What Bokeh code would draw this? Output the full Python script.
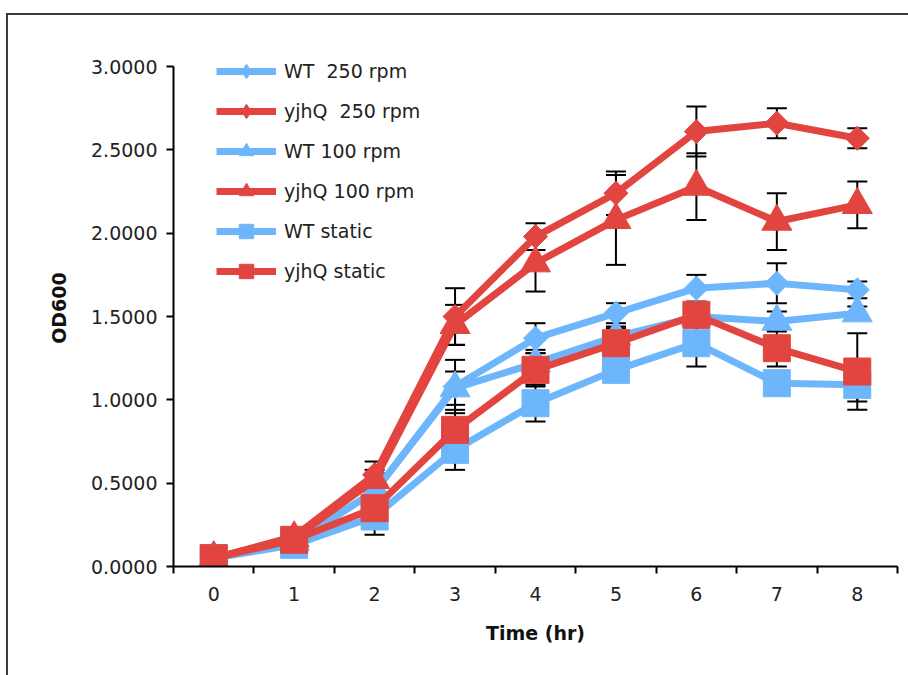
import math
from bokeh.plotting import figure
from bokeh.models import (ColumnDataSource, FixedTicker, PrintfTickFormatter, Whisker,
                          TeeHead, Legend, LegendItem)
from bokeh.embed import file_html
from bokeh.resources import INLINE

hours = [0, 1, 2, 3, 4, 5, 6, 7, 8]

labels = ["WT  250 rpm", "yjhQ  250 rpm", "WT 100 rpm", "yjhQ 100 rpm", "WT static", "yjhQ static"]

wt250 = [0.05, 0.14, 0.45, 1.08, 1.37, 1.52, 1.67, 1.70, 1.66]
wt250_err = [0.01, 0.02, 0.05, 0.16, 0.09, 0.06, 0.08, 0.12, 0.05]
yjhq250 = [0.05, 0.18, 0.55, 1.50, 1.98, 2.24, 2.61, 2.66, 2.57]
yjhq250_err = [0.01, 0.02, 0.08, 0.17, 0.08, 0.13, 0.15, 0.09, 0.06]
wt100 = [0.05, 0.15, 0.45, 1.07, 1.22, 1.38, 1.50, 1.47, 1.52]
wt100_err = [0.01, 0.02, 0.05, 0.10, 0.08, 0.06, 0.06, 0.06, 0.04]
yjhq100 = [0.05, 0.17, 0.52, 1.45, 1.82, 2.08, 2.28, 2.07, 2.17]
yjhq100_err = [0.01, 0.02, 0.06, 0.12, 0.17, 0.27, 0.20, 0.17, 0.14]
wtstatic = [0.05, 0.13, 0.30, 0.70, 0.98, 1.18, 1.34, 1.10, 1.09]
wtstatic_err = [0.01, 0.02, 0.11, 0.12, 0.11, 0.05, 0.14, 0.05, 0.10]
yjhqstatic = [0.05, 0.16, 0.35, 0.82, 1.18, 1.34, 1.51, 1.31, 1.17]
yjhqstatic_err = [0.01, 0.02, 0.08, 0.12, 0.10, 0.09, 0.05, 0.11, 0.23]

y_ticks = [0.0, 0.5, 1.0, 1.5, 2.0, 2.5, 3.0]

BLUE = "#6EB6FB"
RED = "#E2453F"

# (label, values, errors, colour, plot marker, size, angle, legend marker)
series = [
    (labels[0], wt250, wt250_err, BLUE, "square", 17, math.pi / 4, "diamond"),
    (labels[1], yjhq250, yjhq250_err, RED, "square", 17, math.pi / 4, "diamond"),
    (labels[2], wt100, wt100_err, BLUE, "triangle", 30, 0, "triangle"),
    (labels[3], yjhq100, yjhq100_err, RED, "triangle", 30, 0, "triangle"),
    (labels[4], wtstatic, wtstatic_err, BLUE, "square", 27, 0, "square"),
    (labels[5], yjhqstatic, yjhqstatic_err, RED, "square", 27, 0, "square"),
]

FONT = "DejaVu Sans"
FS = "19px"

# frame extends 17 px above the 3.0 tick so the legend is not clipped
Y_TOP = 3.0 * 515 / 498

p = figure(width=902, height=662, x_range=(-0.5, 8.5), y_range=(0, Y_TOP),
           output_backend="svg", toolbar_location=None,
           min_border_left=165, min_border_right=15, min_border_top=34, min_border_bottom=113,
           margin=(13, 0, 0, 6))
p.styles = {"border-top": "2px solid #3a3a3a", "border-left": "2px solid #3a3a3a",
            "box-sizing": "content-box"}
p.outline_line_color = None
p.xgrid.visible = False
p.ygrid.visible = False

for name, ys, err, col, mk, sz, ang, lmk in series:
    src = ColumnDataSource(dict(x=hours, upper=[a + b for a, b in zip(ys, err)],
                                lower=[a - b for a, b in zip(ys, err)]))
    w = Whisker(source=src, base="x", upper="upper", lower="lower",
                line_color="black", line_width=2,
                upper_head=TeeHead(size=20, line_color="black", line_width=2),
                lower_head=TeeHead(size=20, line_color="black", line_width=2))
    p.add_layout(w)

items = []
for name, ys, err, col, mk, sz, ang, lmk in series:
    src = ColumnDataSource(dict(x=hours, y=ys))
    r1 = p.line("x", "y", source=src, line_color=col, line_width=7)
    p.scatter("x", "y", source=src, marker=mk, size=sz, angle=ang,
              fill_color=col, line_color=col)
    dummy = p.scatter(x=[float("nan")], y=[float("nan")], marker=lmk, size=sz,
                      fill_color=col, line_color=col)
    items.append(LegendItem(label=name, renderers=[r1, dummy]))

legend = Legend(items=items, location=(43, 277), glyph_width=60, glyph_height=36,
                label_height=36, spacing=4, padding=0, margin=0, label_standoff=8,
                label_text_font=FONT, label_text_font_size=FS, label_text_color="#222222",
                border_line_color=None, background_fill_alpha=0)
p.add_layout(legend, "center")

p.xaxis.ticker = FixedTicker(ticks=hours, minor_ticks=[h - 0.5 for h in hours] + [8.5])
p.xaxis.major_tick_out = 0
p.xaxis.major_tick_in = 0
p.xaxis.minor_tick_out = 7
p.xaxis.minor_tick_in = 0
p.xaxis.minor_tick_line_color = "black"
p.xaxis.minor_tick_line_width = 2
p.xaxis.major_label_standoff = 13
p.xaxis.axis_label = "Time (hr)"
p.xaxis.axis_label_standoff = 18

p.yaxis.ticker = FixedTicker(ticks=y_ticks, minor_ticks=[])
p.yaxis.bounds = (0, 3)
p.yaxis.formatter = PrintfTickFormatter(format="%.4f")
p.yaxis.major_tick_out = 7
p.yaxis.major_tick_in = 0
p.yaxis.major_label_standoff = 9
p.yaxis.axis_label = "OD600"
p.yaxis.axis_label_standoff = 18

for ax in (p.xaxis, p.yaxis):
    ax.axis_line_color = "black"
    ax.axis_line_width = 2
    ax.major_tick_line_color = "black"
    ax.major_tick_line_width = 2
    ax.major_label_text_font = FONT
    ax.major_label_text_font_size = FS
    ax.major_label_text_color = "#222222"
    ax.axis_label_text_font = FONT
    ax.axis_label_text_font_size = FS
    ax.axis_label_text_font_style = "bold"
    ax.axis_label_text_color = "#111111"

open("out.html", "w").write(file_html(p, INLINE))
